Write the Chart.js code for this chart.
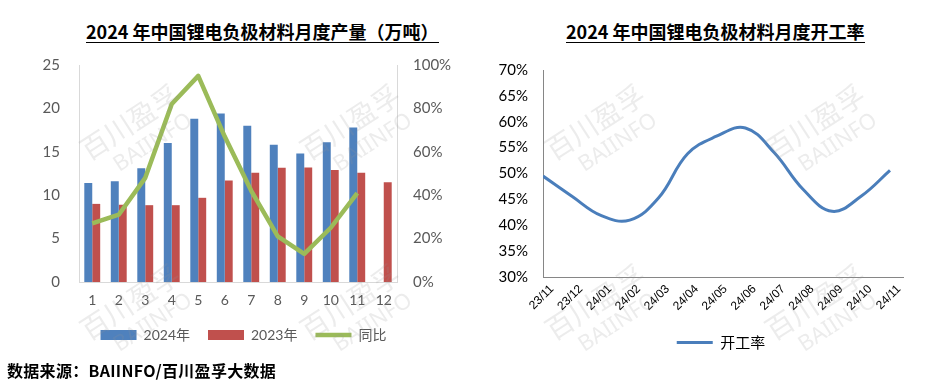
<!DOCTYPE html>
<html>
<head>
<meta charset="utf-8">
<script src="https://cdn.jsdelivr.net/npm/chart.js@4.4.1/dist/chart.umd.min.js"></script>
<style>
html,body{margin:0;padding:0;background:#fff;width:934px;height:390px;overflow:hidden;position:relative;}
canvas{position:absolute;top:0;}
#c1{left:0;}
#c2{left:467px;}
#wm{left:0;pointer-events:none;z-index:5;}
.title{position:absolute;top:20px;font-family:"Noto Sans CJK SC",sans-serif;font-weight:bold;font-size:18px;line-height:22px;color:#000;border-bottom:1.5px solid #000;white-space:nowrap;}
#t1{left:86px;}
#t2{left:566px;}
#src{position:absolute;left:7px;top:360px;font-family:"Noto Sans CJK SC",sans-serif;font-weight:bold;font-size:16px;line-height:20px;color:#000;white-space:nowrap;letter-spacing:0.3px;}
</style>
</head>
<body>
<div class="title" id="t1">2024 年中国锂电负极材料月度产量（万吨）</div>
<div class="title" id="t2">2024 年中国锂电负极材料月度开工率</div>
<canvas id="c1" width="467" height="390"></canvas>
<canvas id="c2" width="480" height="390"></canvas>
<canvas id="wm" width="934" height="390"></canvas>
<div id="src">数据来源：BAIINFO/百川盈孚大数据</div>
<script>
// ---- data (left chart) ----
const months = ['1','2','3','4','5','6','7','8','9','10','11','12'];
const output2024 = [11.4, 11.6, 13.1, 16.0, 18.8, 19.4, 18.0, 15.8, 14.8, 16.1, 17.8, null];
const output2023 = [9.0, 8.9, 8.85, 8.85, 9.7, 11.7, 12.6, 13.15, 13.2, 12.9, 12.6, 11.5];
const yoyPct = [27, 31, 48, 82, 95, 67, 42, 21, 13, 25, 41, null];
const leftTicks = [0, 5, 10, 15, 20, 25];
const rightTicks = [0, 20, 40, 60, 80, 100];

// ---- data (right chart) ----
const periods = ['23/11','23/12','24/01','24/02','24/03','24/04','24/05','24/06','24/07','24/08','24/09','24/10','24/11'];
const utilization = [49.5, 45.6, 41.9, 41.0, 45.3, 53.8, 57.2, 58.8, 54.0, 46.9, 42.7, 45.6, 50.6];
const utilTicks = [30, 35, 40, 45, 50, 55, 60, 65, 70];

const numFont = 'Lato, "Noto Sans CJK SC", sans-serif';
Chart.defaults.font.family = numFont;
Chart.defaults.animation = false;

const defaultGen = Chart.defaults.plugins.legend.labels.generateLabels;

new Chart(document.getElementById('c1'), {
  type: 'bar',
  data: {
    labels: months,
    datasets: [
      {label: '2024年', data: output2024, backgroundColor: '#4F81BD', borderWidth: 0, yAxisID: 'y', order: 1,
       categoryPercentage: 0.6, barPercentage: 1.0},
      {label: '2023年', data: output2023, backgroundColor: '#C0504D', borderWidth: 0, yAxisID: 'y', order: 1,
       categoryPercentage: 0.6, barPercentage: 1.0},
      {type: 'line', label: '同比', data: yoyPct, borderColor: '#9BBB59', backgroundColor: '#9BBB59',
       borderWidth: 4.5, pointRadius: 0, tension: 0, yAxisID: 'y1', order: 0, borderJoinStyle: 'round'}
    ]
  },
  options: {
    responsive: false,
    layout: {padding: {left: 20, right: 0, top: 65, bottom: 38}},
    plugins: {
      tooltip: {enabled: false},
      legend: {
        position: 'bottom',
        labels: {
          usePointStyle: true, pointStyleWidth: 36, boxHeight: 10, padding: 18,
          color: '#595959', font: {size: 14},
          sort: (a, b) => a.datasetIndex - b.datasetIndex,
          generateLabels: (chart) => defaultGen(chart).map(it => {
            const ds = chart.data.datasets[it.datasetIndex];
            if (ds.type === 'line') { it.pointStyle = 'line'; it.lineWidth = 4.5; it.strokeStyle = '#9BBB59'; }
            else { it.pointStyle = 'rect'; it.lineWidth = 0; }
            return it;
          })
        }
      }
    },
    scales: {
      x: {
        grid: {display: false, drawTicks: false},
        border: {display: true, color: '#D9D9D9'},
        ticks: {color: '#595959', font: {size: 14}, padding: 10},
        afterFit: s => { s.height = 28; }
      },
      y: {
        position: 'left', min: 0, max: 25,
        grid: {display: false, drawTicks: false},
        border: {display: true, color: '#D9D9D9'},
        afterBuildTicks: s => { s.ticks = leftTicks.map(v => ({value: v})); },
        ticks: {color: '#595959', font: {size: 15}, padding: 19},
        afterFit: s => { s.width = 59; }
      },
      y1: {
        position: 'right', min: 0, max: 100,
        grid: {display: false, drawTicks: false},
        border: {display: true, color: '#D9D9D9'},
        afterBuildTicks: s => { s.ticks = rightTicks.map(v => ({value: v})); },
        ticks: {color: '#595959', font: {size: 15}, padding: 16, callback: v => v + '%'},
        afterFit: s => { s.width = 70; }
      }
    }
  }
});

new Chart(document.getElementById('c2'), {
  type: 'line',
  data: {
    datasets: [
      {label: '开工率', data: utilization.map((v, i) => ({x: i, y: v})), borderColor: '#4A7EBB',
       backgroundColor: '#4A7EBB', borderWidth: 3, pointRadius: 0, tension: 0.4}
    ]
  },
  options: {
    responsive: false,
    layout: {padding: {left: 28, right: 0, top: 70, bottom: 30}},
    plugins: {
      tooltip: {enabled: false},
      legend: {
        position: 'bottom',
        labels: {
          usePointStyle: true, pointStyleWidth: 36, boxHeight: 10, padding: 10,
          color: '#000', font: {size: 15, family: '"Noto Sans CJK SC", sans-serif'},
          generateLabels: (chart) => defaultGen(chart).map(it => {
            it.pointStyle = 'line'; it.lineWidth = 3; it.strokeStyle = '#4A7EBB';
            return it;
          })
        }
      }
    },
    scales: {
      x: {
        type: 'linear', min: 0, max: 12.45, bounds: 'data',
        grid: {display: false, drawTicks: false},
        border: {display: true, color: '#868686'},
        afterBuildTicks: s => { s.ticks = periods.map((p, i) => ({value: i})); },
        ticks: {color: '#000', font: {size: 12, family: '"Liberation Sans", sans-serif'}, autoSkip: false,
                minRotation: 45, maxRotation: 45, padding: 5, labelOffset: 9,
                callback: v => periods[v] ?? ''},
        afterFit: s => { s.height = 48; }
      },
      y: {
        position: 'left', min: 30, max: 70,
        grid: {display: false, drawTicks: false},
        border: {display: true, color: '#868686'},
        afterBuildTicks: s => { s.ticks = utilTicks.map(v => ({value: v})); },
        ticks: {color: '#000', font: {size: 15}, padding: 15, callback: v => v + '%'},
        afterFit: s => { s.width = 48; }
      },
      y2: {
        position: 'right', display: true,
        grid: {display: false, drawTicks: false},
        border: {display: false},
        ticks: {display: false},
        afterFit: s => { s.width = 44; }
      }
    }
  }
});

// ---- watermark overlay ----
(function () {
  const ctx = document.getElementById('wm').getContext('2d');
  const xs = [130, 350, 595, 815];
  const ys = [122, 302];
  ctx.fillStyle = 'rgba(150,150,150,0.18)';
  ctx.textAlign = 'center';
  ctx.textBaseline = 'middle';
  xs.forEach(x => ys.forEach(y => {
    ctx.save();
    ctx.translate(x, y);
    ctx.rotate(-33 * Math.PI / 180);
    ctx.font = '28px "Noto Sans CJK SC", sans-serif';
    ctx.fillText('百川盈孚', 0, 0);
    ctx.font = '22px "Noto Sans", sans-serif';
    ctx.fillText('BAIINFO', 8, 30);
    ctx.restore();
  }));
})();
</script>
</body>
</html>
